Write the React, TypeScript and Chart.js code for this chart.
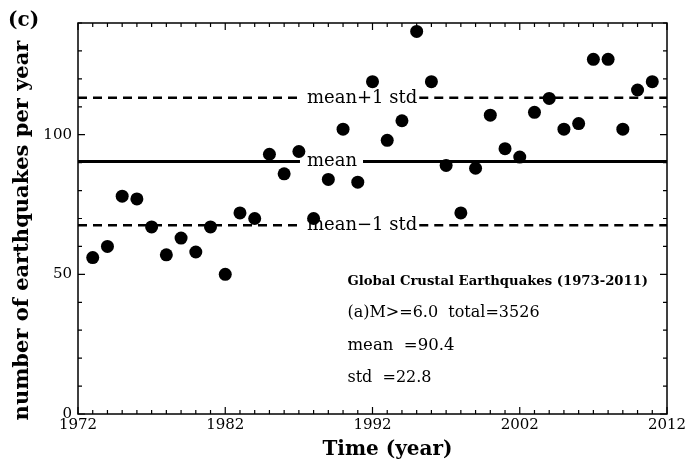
import React, { useEffect, useRef } from "react";
import { Chart, registerables } from "chart.js";

Chart.register(...registerables);

// Yearly counts of global crustal earthquakes, M >= 6.0
const years = [
  1973, 1974, 1975, 1976, 1977, 1978, 1979, 1980, 1981, 1982,
  1983, 1984, 1985, 1986, 1987, 1988, 1989, 1990, 1991, 1992,
  1993, 1994, 1995, 1996, 1997, 1998, 1999, 2000, 2001, 2002,
  2003, 2004, 2005, 2006, 2007, 2008, 2009, 2010, 2011,
];
const counts = [
  56, 60, 78, 77, 67, 57, 63, 58, 67, 50,
  72, 70, 93, 86, 94, 70, 84, 102, 83, 119,
  98, 105, 137, 119, 89, 72, 88, 107, 95, 92,
  108, 113, 102, 104, 127, 127, 102, 116, 119,
];

const meanValue = 90.4;
const stdValue = 22.8;
const totalCount = 3526;

const xTickYears = [1972, 1982, 1992, 2002, 2012];
const yTickValues = [0, 50, 100];
const xRange = [1972, 2012];
const yRange = [0, 140];

const refLineLabels = ["mean+1 std", "mean", "mean\u22121 std"];
const infoLines = [
  "Global Crustal Earthquakes (1973-2011)",
  `(a)M>=6.0  total=${totalCount}`,
  `mean  =${meanValue}`,
  `std  =${stdValue}`,
];
const panelLabel = "(c)";
const xTitle = "Time (year)";
const yTitle = "number of earthquakes per year";

const SERIF = "'DejaVu Serif', 'Liberation Serif', serif";

// Reference lines, frame with inward ticks and annotation text
const annotationPlugin = {
  id: "annotations",
  beforeDatasetsDraw(chart: any) {
    const { ctx, chartArea: a, scales } = chart;
    const xs = scales.x;
    const ys = scales.y;
    const labelLeft = xs.getPixelForValue(1987.55);
    const refLines = [
      { value: meanValue + stdValue, label: refLineLabels[0], dashed: true },
      { value: meanValue, label: refLineLabels[1], dashed: false },
      { value: meanValue - stdValue, label: refLineLabels[2], dashed: true },
    ];
    ctx.save();
    ctx.font = `18px ${SERIF}`;
    ctx.textBaseline = "middle";
    ctx.textAlign = "left";
    ctx.fillStyle = "#000";
    ctx.strokeStyle = "#000";
    for (const r of refLines) {
      const py = ys.getPixelForValue(r.value);
      const w = ctx.measureText(r.label).width;
      ctx.lineWidth = r.dashed ? 2.5 : 3;
      ctx.setLineDash(r.dashed ? [9, 6] : []);
      ctx.beginPath();
      ctx.moveTo(a.left, py);
      ctx.lineTo(labelLeft - 7, py);
      ctx.moveTo(labelLeft + w + (r.dashed ? 2 : 6), py);
      ctx.lineTo(a.right, py);
      ctx.stroke();
      ctx.fillText(r.label, labelLeft, py);
    }
    ctx.restore();
  },
  afterDatasetsDraw(chart: any) {
    const { ctx, chartArea: a, scales } = chart;
    const xs = scales.x;
    const ys = scales.y;
    ctx.save();
    ctx.strokeStyle = "#000";
    ctx.setLineDash([]);
    ctx.lineWidth = 1.5;
    ctx.strokeRect(a.left, a.top, a.right - a.left, a.bottom - a.top);
    ctx.lineWidth = 1.2;
    ctx.beginPath();
    for (let v = xRange[0]; v <= xRange[1]; v += 1) {
      const px = xs.getPixelForValue(v);
      const len = (v - xRange[0]) % 10 === 0 ? 7 : 4;
      ctx.moveTo(px, a.bottom);
      ctx.lineTo(px, a.bottom - len);
      ctx.moveTo(px, a.top);
      ctx.lineTo(px, a.top + len);
    }
    for (let v = yRange[0]; v <= yRange[1]; v += 10) {
      const py = ys.getPixelForValue(v);
      const len = v % 50 === 0 ? 7 : 4;
      ctx.moveTo(a.left, py);
      ctx.lineTo(a.left + len, py);
      ctx.moveTo(a.right, py);
      ctx.lineTo(a.right - len, py);
    }
    ctx.stroke();
    ctx.restore();
  },
  afterDraw(chart: any) {
    const { ctx, chartArea: a, scales } = chart;
    const xs = scales.x;
    const ys = scales.y;
    ctx.save();
    ctx.fillStyle = "#000";
    ctx.textAlign = "left";
    ctx.textBaseline = "alphabetic";

    // info block
    const infoX = xs.getPixelForValue(1990.3);
    const infoFonts = [`bold 13.2px ${SERIF}`, `16px ${SERIF}`, `16.5px ${SERIF}`, `16px ${SERIF}`];
    const infoBaselines = [46.2, 34.8, 22.8, 11.6];
    infoLines.forEach((t, i) => {
      ctx.font = infoFonts[i];
      ctx.fillText(t, infoX, ys.getPixelForValue(infoBaselines[i]));
    });

    // panel label
    ctx.font = `bold 20px ${SERIF}`;
    ctx.fillText(panelLabel, 8, 26);

    // axis titles
    ctx.textAlign = "center";
    ctx.font = `bold 20px ${SERIF}`;
    ctx.fillText(xTitle, (a.left + a.right) / 2 + 15, 455);
    ctx.font = `bold 21px ${SERIF}`;
    ctx.translate(28, (a.top + a.bottom) / 2 + 12);
    ctx.rotate(-Math.PI / 2);
    ctx.fillText(yTitle, 0, 0);
    ctx.restore();
  },
};

export default function App() {
  const canvasRef = useRef<HTMLCanvasElement | null>(null);

  useEffect(() => {
    document.body.style.margin = "0";
    const canvas = canvasRef.current;
    if (!canvas) return;
    const points = years.map((y, i) => ({ x: y, y: counts[i] }));
    const chart = new Chart(canvas, {
      type: "scatter",
      data: {
        datasets: [
          {
            data: points,
            backgroundColor: "#000",
            borderColor: "#000",
            pointRadius: 6.5,
            pointHoverRadius: 6.5,
            borderWidth: 0,
          },
        ],
      },
      options: {
        animation: false,
        responsive: false,
        devicePixelRatio: 1,
        layout: { padding: { top: 23, right: 22, left: 0, bottom: 0 } },
        plugins: {
          legend: { display: false },
          tooltip: { enabled: false },
        },
        scales: {
          x: {
            type: "linear",
            min: xRange[0],
            max: xRange[1],
            grid: { display: false, drawTicks: false },
            border: { display: false },
            afterBuildTicks: (s: any) => {
              s.ticks = xTickYears.map((v) => ({ value: v }));
            },
            afterFit: (s: any) => {
              s.height = 53;
            },
            ticks: {
              padding: 2,
              maxRotation: 0,
              color: "#000",
              font: { family: SERIF, size: 15 },
              callback: (v: any) => String(v),
            },
          },
          y: {
            type: "linear",
            min: yRange[0],
            max: yRange[1],
            grid: { display: false, drawTicks: false },
            border: { display: false },
            afterBuildTicks: (s: any) => {
              s.ticks = yTickValues.map((v) => ({ value: v }));
            },
            afterFit: (s: any) => {
              s.width = 78;
            },
            ticks: {
              padding: 6,
              color: "#000",
              font: { family: SERIF, size: 15 },
              callback: (v: any) => String(v),
            },
          },
        },
      },
      plugins: [annotationPlugin],
    });
    return () => chart.destroy();
  }, []);

  return (
    <div style={{ width: 689, height: 467, background: "#fff" }}>
      <canvas ref={canvasRef} width={689} height={467} />
    </div>
  );
}
